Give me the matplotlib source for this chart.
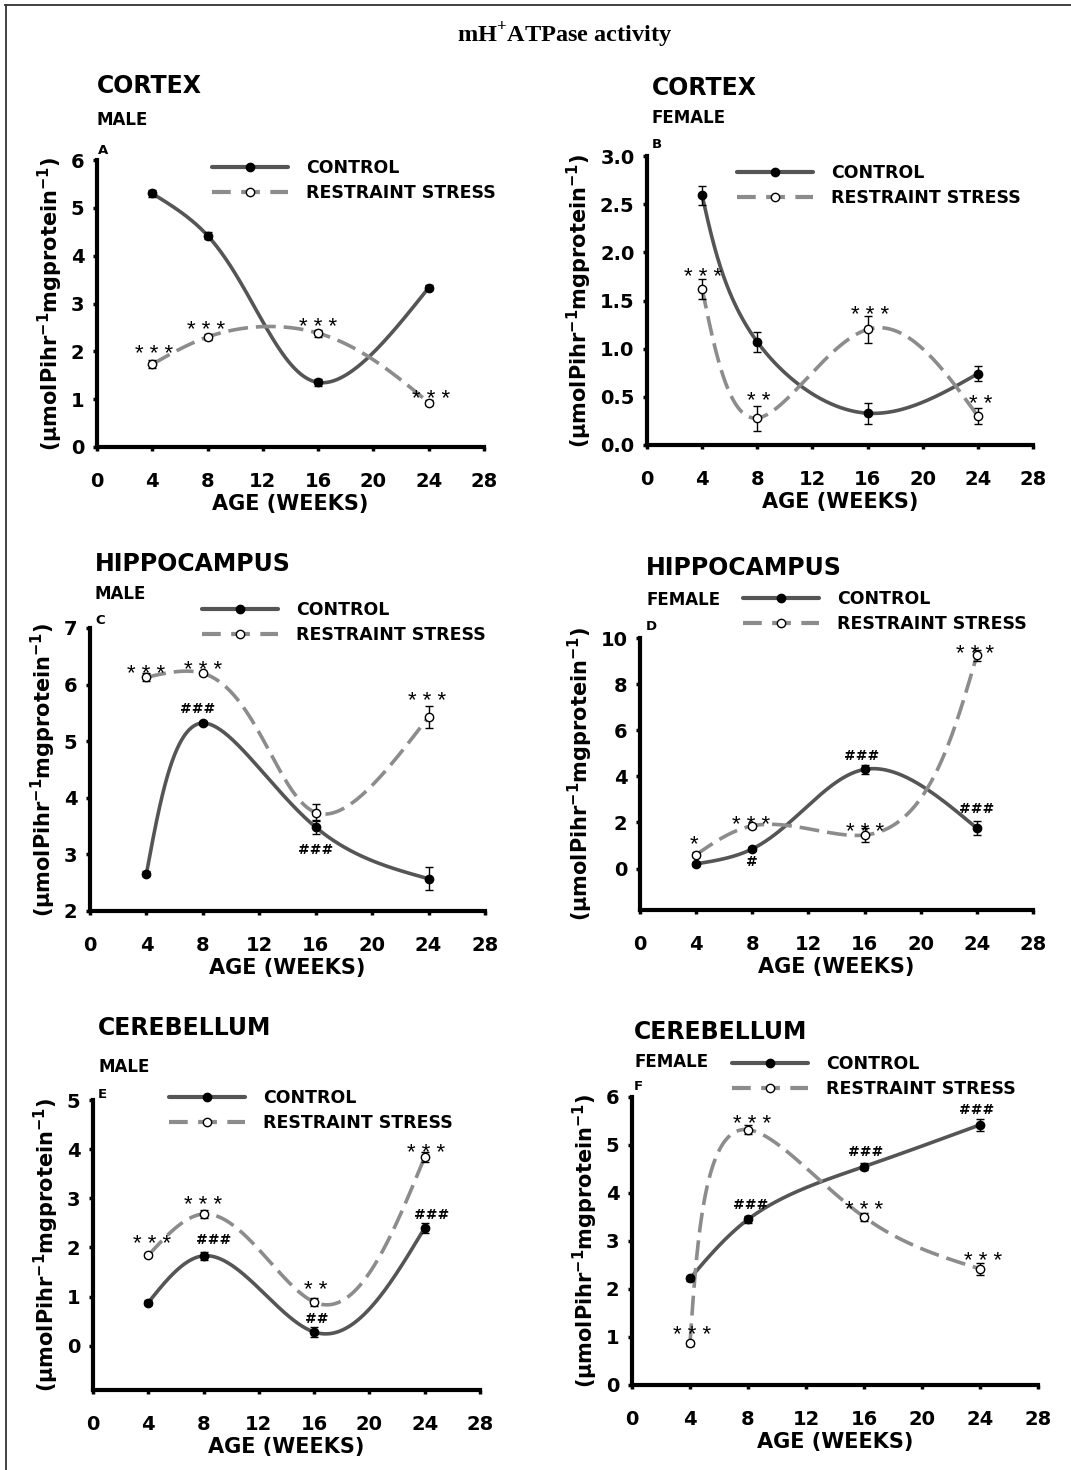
import numpy as np
import matplotlib
matplotlib.use('Agg')
import matplotlib.pyplot as plt
from matplotlib.lines import Line2D

plt.rcParams['font.family'] = ['DejaVu Sans']
plt.rcParams['font.weight'] = 'bold'
plt.rcParams['mathtext.fontset'] = 'custom'
plt.rcParams['mathtext.bf'] = 'DejaVu Sans:bold'
plt.rcParams['mathtext.rm'] = 'Liberation Serif:bold'
plt.rcParams['mathtext.default'] = 'bf'

# ---- data ----
weeks = [4, 8, 16, 24]

cortex_male_control = [5.30, 4.42, 1.35, 3.33]
cortex_male_control_err = [0.08, 0.07, 0.08, 0.05]
cortex_male_stress = [1.73, 2.30, 2.38, 0.93]
cortex_male_stress_err = [0.08, 0.07, 0.07, 0.05]
cortex_male_marks = [(4.1, 2.09, '***'), (7.9, 2.59, '***'), (16.0, 2.65, '***'), (24.2, 1.15, '***')]

cortex_female_control = [2.59, 1.07, 0.33, 0.74]
cortex_female_control_err = [0.10, 0.10, 0.11, 0.08]
cortex_female_stress = [1.62, 0.28, 1.20, 0.30]
cortex_female_stress_err = [0.10, 0.13, 0.14, 0.08]
cortex_female_marks = [(4.1, 1.82, '***'), (8.1, 0.53, '**'), (16.2, 1.42, '***'), (24.2, 0.50, '**')]

hippo_male_control = [2.66, 5.32, 3.48, 2.57]
hippo_male_control_err = [0.05, 0.03, 0.12, 0.20]
hippo_male_stress = [6.13, 6.20, 3.74, 5.43]
hippo_male_stress_err = [0.07, 0.03, 0.15, 0.20]
hippo_male_marks = [(4.0, 6.31, '***'), (8.0, 6.38, '***'), (7.6, 5.59, '###'),
                    (16.0, 3.10, '###'), (23.9, 5.83, '***')]

hippo_female_control = [0.20, 0.85, 4.30, 1.75]
hippo_female_control_err = [0.10, 0.10, 0.20, 0.30]
hippo_female_stress = [0.60, 1.85, 1.45, 9.25]
hippo_female_stress_err = [0.10, 0.10, 0.30, 0.25]
hippo_female_marks = [(3.85, 1.34, '*'), (7.9, 2.20, '***'), (8.0, 0.35, '#'), (15.8, 4.93, '###'),
                      (16.0, 1.90, '***'), (24.0, 2.64, '###'), (23.9, 9.60, '***')]

cereb_male_control = [0.88, 1.83, 0.28, 2.40]
cereb_male_control_err = [0.05, 0.08, 0.10, 0.10]
cereb_male_stress = [1.84, 2.68, 0.89, 3.84]
cereb_male_stress_err = [0.04, 0.08, 0.08, 0.10]
cereb_male_marks = [(4.3, 2.22, '***'), (7.96, 3.00, '***'), (8.75, 2.18, '###'), (16.1, 1.27, '**'),
                    (16.2, 0.57, '##'), (24.1, 4.07, '***'), (24.5, 2.69, '###')]

cereb_female_control = [2.22, 3.45, 4.55, 5.42]
cereb_female_control_err = [0.05, 0.07, 0.08, 0.12]
cereb_female_stress = [0.87, 5.32, 3.50, 2.42]
cereb_female_stress_err = [0.05, 0.10, 0.08, 0.12]
cereb_female_marks = [(4.14, 1.19, '***'), (8.3, 5.58, '***'), (8.2, 3.79, '###'), (16.1, 4.88, '###'),
                      (16.0, 3.79, '***'), (24.2, 2.73, '***'), (23.8, 5.77, '###')]

W, H = 1071, 1470


def natural(t, v, ts):
    # natural cubic spline of v over t, evaluated at ts
    k = len(t)
    h = np.diff(t)
    A = np.zeros((k, k))
    r = np.zeros(k)
    A[0, 0] = A[-1, -1] = 1
    for i in range(1, k - 1):
        A[i, i - 1] = h[i - 1]
        A[i, i] = 2 * (h[i - 1] + h[i])
        A[i, i + 1] = h[i]
        r[i] = 3 * ((v[i + 1] - v[i]) / h[i] - (v[i] - v[i - 1]) / h[i - 1])
    c = np.linalg.solve(A, r)
    b = (v[1:] - v[:-1]) / h - h * (2 * c[:-1] + c[1:]) / 3
    d = (c[1:] - c[:-1]) / (3 * h)
    idx = np.clip(np.searchsorted(t, ts) - 1, 0, k - 2)
    dt = ts - t[idx]
    return v[idx] + b[idx] * dt + c[idx] * dt ** 2 + d[idx] * dt ** 3


def smooth(x, y, sx, sy, n=400):
    # parametric spline in screen space (chord length), like SigmaPlot's spline curve
    u = np.asarray(x, float) * sx
    v = np.asarray(y, float) * sy
    t = np.concatenate([[0], np.cumsum(np.hypot(np.diff(u), np.diff(v)))])
    ts = np.linspace(0, t[-1], n)
    return natural(t, u, ts) / sx, natural(t, v, ts) / sy


def fx(px):
    return px / W


def fy(py):
    return 1 - py / H


fig = plt.figure(figsize=(W / 100, H / 100), dpi=100)

# border (top and left)
fig.add_artist(Line2D([fx(5), 1], [fy(5), fy(5)], color='#333333', lw=1.3))
fig.add_artist(Line2D([fx(6), fx(6)], [fy(5), 0], color='#333333', lw=1.3))

fig.text(fx(565), fy(35), r'mH$^{\mathrm{+}}$ATPase activity', ha='center', va='center',
         family='Liberation Serif', fontsize=17.5, fontweight='bold')

panels = [
    dict(box=(97, 160, 484, 447), ylim=(0, 6), yticks=[0, 1, 2, 3, 4, 5, 6], fmt='{:.0f}',
         c=cortex_male_control, ce=cortex_male_control_err, s=cortex_male_stress, se=cortex_male_stress_err,
         marks=cortex_male_marks, title=('CORTEX', 97, 86), sub=('MALE', 97, 120), let=('A', 98, 150),
         leg=(212, 170)),
    dict(box=(647, 156, 1033, 445), ylim=(0, 3), yticks=[0, 0.5, 1, 1.5, 2, 2.5, 3], fmt='{:.1f}',
         c=cortex_female_control, ce=cortex_female_control_err, s=cortex_female_stress,
         se=cortex_female_stress_err, marks=cortex_female_marks, title=('CORTEX', 652, 88),
         sub=('FEMALE', 652, 118), let=('B', 652, 145), leg=(737, 175)),
    dict(box=(90, 628, 485, 911), ylim=(2, 7), yticks=[2, 3, 4, 5, 6, 7], fmt='{:.0f}',
         c=hippo_male_control, ce=hippo_male_control_err, s=hippo_male_stress, se=hippo_male_stress_err,
         marks=hippo_male_marks, title=('HIPPOCAMPUS', 95, 564), sub=('MALE', 95, 594), let=('C', 95, 620),
         leg=(202, 612)),
    dict(box=(640, 638, 1033, 910), ylim=(-1.8, 10), yticks=[0, 2, 4, 6, 8, 10], fmt='{:.0f}',
         c=hippo_female_control, ce=hippo_female_control_err, s=hippo_female_stress,
         se=hippo_female_stress_err, marks=hippo_female_marks, title=('HIPPOCAMPUS', 646, 568),
         sub=('FEMALE', 646, 600), let=('D', 646, 627), leg=(743, 601)),
    dict(box=(93, 1100, 480, 1390), ylim=(-0.9, 5), yticks=[0, 1, 2, 3, 4, 5], fmt='{:.0f}',
         c=cereb_male_control, ce=cereb_male_control_err, s=cereb_male_stress, se=cereb_male_stress_err,
         marks=cereb_male_marks, title=('CEREBELLUM', 98, 1028), sub=('MALE', 98, 1067),
         let=('E', 98, 1095), leg=(169, 1100)),
    dict(box=(632, 1097, 1038, 1385), ylim=(0, 6), yticks=[0, 1, 2, 3, 4, 5, 6], fmt='{:.0f}',
         c=cereb_female_control, ce=cereb_female_control_err, s=cereb_female_stress,
         se=cereb_female_stress_err, marks=cereb_female_marks, title=('CEREBELLUM', 634, 1032),
         sub=('FEMALE', 634, 1062), let=('F', 634, 1087), leg=(732, 1066)),
]

ctrl_col = '#555555'
str_col = '#8c8c8c'
dash = (0, (5.5, 2.2))

for p in panels:
    l, t, r, b = p['box']
    ax = fig.add_axes([fx(l), fy(b), (r - l) / W, (b - t) / H])
    sx = (r - l) / 28.0
    sy = (b - t) / (p['ylim'][1] - p['ylim'][0])

    xs, ys = smooth(weeks, p['c'], sx, sy)
    ax.plot(xs, ys, color=ctrl_col, lw=2.6, solid_capstyle='round', zorder=2)
    xs, ys = smooth(weeks, p['s'], sx, sy)
    ax.plot(xs, ys, color=str_col, lw=2.6, ls=dash, zorder=2)

    ax.errorbar(weeks, p['c'], yerr=p['ce'], fmt='none', ecolor='black', elinewidth=1, capsize=3, zorder=3)
    ax.errorbar(weeks, p['s'], yerr=p['se'], fmt='none', ecolor='black', elinewidth=1, capsize=3, zorder=3)
    ax.plot(weeks, p['c'], 'o', color='black', ms=6, zorder=4)
    ax.plot(weeks, p['s'], 'o', mfc='white', mec='black', mew=1, ms=6, zorder=4)

    for x, y, txt in p['marks']:
        if '*' in txt:
            ax.annotate(' '.join(txt), (x, y), xytext=(0, -9.3), textcoords='offset points',
                        ha='center', va='baseline', fontsize=16, fontweight='normal',
                        family='Liberation Sans')
        else:
            ax.annotate(txt, (x, y), xytext=(0, -4.0), textcoords='offset points',
                        ha='center', va='baseline', fontsize=10, fontweight='bold')

    ax.set_xlim(0, 28)
    ax.set_ylim(*p['ylim'])
    ax.set_xticks([0, 4, 8, 12, 16, 20, 24, 28])
    ax.set_yticks(p['yticks'])
    ax.set_yticklabels([p['fmt'].format(v) for v in p['yticks']])
    for s in ['top', 'right']:
        ax.spines[s].set_visible(False)
    for s in ['left', 'bottom']:
        ax.spines[s].set_linewidth(3)
    ax.tick_params(axis='x', direction='out', length=3, width=2.5, pad=15, labelsize=14)
    ax.tick_params(axis='y', direction='out', length=3, width=2.5, pad=6, labelsize=14)
    for lab in ax.get_xticklabels() + ax.get_yticklabels():
        lab.set_fontweight('bold')
    ax.set_xlabel('AGE (WEEKS)', fontsize=15, fontweight='bold', labelpad=2)
    ax.set_ylabel('(\u03bcmolPihr$^{-1}$mgprotein$^{-1}$)', fontsize=15, fontweight='bold', labelpad=4)

    h1 = Line2D([], [], color=ctrl_col, lw=3, marker='o', mfc='black', mec='black', ms=6,
                solid_capstyle='round')
    h2 = Line2D([], [], color=str_col, lw=3, ls=(0, (4.5, 2.5)), marker='o', mfc='white', mec='black',
                mew=1, ms=6)
    lx, ly = p['leg']
    ax.legend([h1, h2], ['CONTROL', 'RESTRAINT STRESS'], loc='upper left',
              bbox_to_anchor=(fx(lx), fy(ly - 11)), bbox_transform=fig.transFigure,
              frameon=False, borderpad=0, borderaxespad=0, handlelength=4.4, handletextpad=1.0,
              labelspacing=0.4, numpoints=1, prop={'size': 12.5, 'weight': 'bold'})

    for (txt, x, y), size in [(p['title'], 17), (p['sub'], 12), (p['let'], 9.5)]:
        fig.text(fx(x), fy(y), txt, ha='left', va='center', fontsize=size, fontweight='bold')

fig.savefig('out.png', dpi=100)
